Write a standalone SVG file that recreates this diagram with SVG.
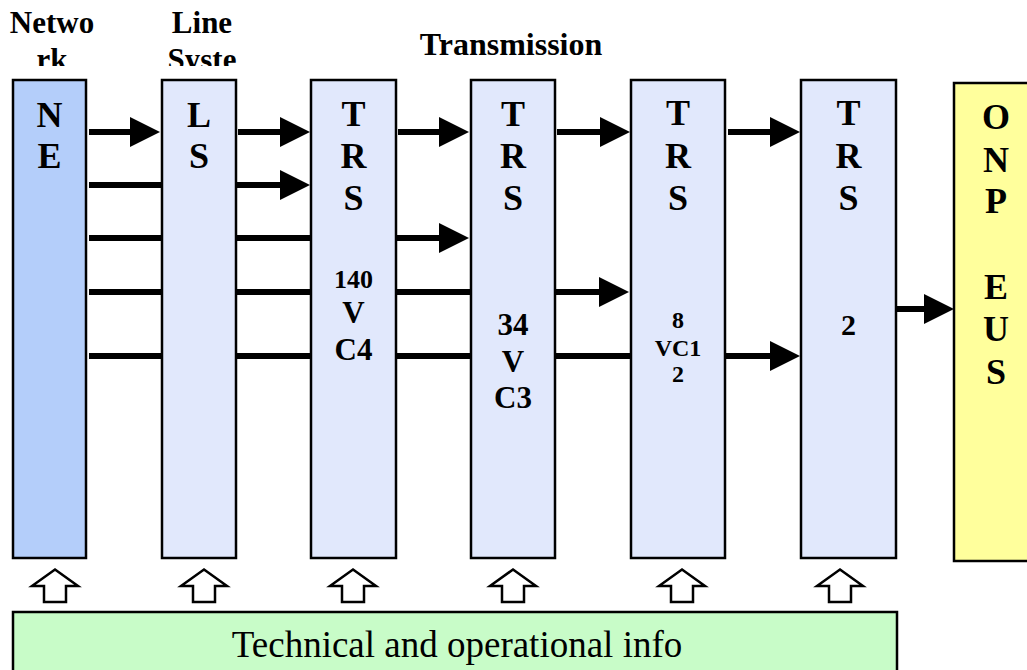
<svg xmlns="http://www.w3.org/2000/svg" width="1027" height="670" viewBox="0 0 1027 670">
<style>
.box{stroke:#000;stroke-width:2.5}
.trs{fill:#e1e8fc}
.ne{fill:#b4cefa}
.onp{fill:#ffff9c}
.info{fill:#c8fcc8}
.ln{stroke:#000;stroke-width:6;fill:none}
.up{fill:#fff;stroke:#000;stroke-width:2.5}
.b{font-family:'Liberation Serif','Times New Roman',serif;font-weight:bold;text-anchor:middle;fill:#000}
.r{font-family:'Liberation Serif','Times New Roman',serif;text-anchor:middle;fill:#000}
</style>
<defs>
<marker id="ah" markerUnits="userSpaceOnUse" markerWidth="30" markerHeight="30" viewBox="0 0 29 29" refX="0" refY="14.5" orient="auto">
<path d="M0,0 L29,14.5 L0,29 Z" fill="#000"/>
</marker>
<clipPath id="c1"><rect x="0" y="0" width="140" height="66"/></clipPath>
<clipPath id="c2"><rect x="140" y="0" width="130" height="66"/></clipPath>
<clipPath id="c3"><rect x="380" y="0" width="260" height="55"/></clipPath>
<path id="uparr" d="M0,-16.5 L23,0 L11,0 L11,16 L-11,16 L-11,0 L-23,0 Z"/>
</defs>
<rect width="1027" height="670" fill="#fff"/>

<g id="headers">
<g clip-path="url(#c1)"><text class="b" x="52" y="33" font-size="31">Netwo</text><text class="b" x="52" y="70" font-size="31">rk</text></g>
<g clip-path="url(#c2)"><text class="b" x="202" y="33" font-size="31">Line</text><text class="b" x="202" y="70" font-size="31">Syste</text></g>
<g clip-path="url(#c3)"><text class="b" x="511" y="55" font-size="32">Transmission</text></g>
</g>

<g id="connectors">
<line class="ln" x1="89" y1="132" x2="130" y2="132" marker-end="url(#ah)"/>
<line class="ln" x1="238" y1="132" x2="280" y2="132" marker-end="url(#ah)"/>
<line class="ln" x1="398" y1="132" x2="439" y2="132" marker-end="url(#ah)"/>
<line class="ln" x1="557" y1="132" x2="600" y2="132" marker-end="url(#ah)"/>
<line class="ln" x1="728" y1="132" x2="770" y2="132" marker-end="url(#ah)"/>
<line class="ln" x1="89" y1="185" x2="280" y2="185" marker-end="url(#ah)"/>
<line class="ln" x1="89" y1="238" x2="439" y2="238" marker-end="url(#ah)"/>
<line class="ln" x1="89" y1="292" x2="599" y2="292" marker-end="url(#ah)"/>
<line class="ln" x1="89" y1="356" x2="770" y2="356" marker-end="url(#ah)"/>
<line class="ln" x1="893" y1="309" x2="924" y2="309" marker-end="url(#ah)"/>
<use href="#uparr" class="up" x="55" y="586"/>
<use href="#uparr" class="up" x="204" y="586"/>
<use href="#uparr" class="up" x="353" y="586"/>
<use href="#uparr" class="up" x="513" y="586"/>
<use href="#uparr" class="up" x="682" y="586"/>
<use href="#uparr" class="up" x="840" y="586"/>
</g>

<g id="NE">
<rect class="box ne" x="13" y="80" width="73" height="478"/>
<text class="b" x="49.5" y="127" font-size="36">N</text>
<text class="b" x="49.5" y="168" font-size="36">E</text>
</g>
<g id="LS">
<rect class="box trs" x="162" y="80" width="74" height="478"/>
<text class="b" x="199" y="127" font-size="36">L</text>
<text class="b" x="199" y="168" font-size="36">S</text>
</g>
<g id="TRS1">
<rect class="box trs" x="311" y="80" width="85" height="478"/>
<text class="b" x="353.5" y="126" font-size="36">T</text>
<text class="b" x="353.5" y="168" font-size="36">R</text>
<text class="b" x="353.5" y="210" font-size="36">S</text>
<text class="b" x="353.5" y="288" font-size="26">140</text>
<text class="b" x="353.5" y="323" font-size="31">V</text>
<text class="b" x="353.5" y="360" font-size="31">C4</text>
</g>
<g id="TRS2">
<rect class="box trs" x="471" y="80" width="84" height="478"/>
<text class="b" x="513" y="126" font-size="36">T</text>
<text class="b" x="513" y="168" font-size="36">R</text>
<text class="b" x="513" y="210" font-size="36">S</text>
<text class="b" x="513" y="335" font-size="31">34</text>
<text class="b" x="513" y="372" font-size="31">V</text>
<text class="b" x="513" y="408" font-size="31">C3</text>
</g>
<g id="TRS3">
<rect class="box trs" x="631" y="80" width="94" height="478"/>
<text class="b" x="678" y="125" font-size="36">T</text>
<text class="b" x="678" y="168" font-size="36">R</text>
<text class="b" x="678" y="210" font-size="36">S</text>
<text class="b" x="678" y="328" font-size="24">8</text>
<text class="b" x="678" y="356" font-size="24">VC1</text>
<text class="b" x="678" y="382" font-size="24">2</text>
</g>
<g id="TRS4">
<rect class="box trs" x="801" y="80" width="95" height="478"/>
<text class="b" x="848.5" y="125" font-size="36">T</text>
<text class="b" x="848.5" y="168" font-size="36">R</text>
<text class="b" x="848.5" y="210" font-size="36">S</text>
<text class="b" x="848.5" y="335" font-size="30">2</text>
</g>
<g id="ONP">
<rect class="box onp" x="954" y="83" width="84" height="478"/>
<text class="b" x="996" y="129" font-size="36">O</text>
<text class="b" x="996" y="172" font-size="36">N</text>
<text class="b" x="996" y="213" font-size="36">P</text>
<text class="b" x="996" y="299" font-size="36">E</text>
<text class="b" x="996" y="341" font-size="36">U</text>
<text class="b" x="996" y="384" font-size="36">S</text>
</g>
<g id="INFO">
<rect class="box info" x="13" y="612" width="884" height="70"/>
<text class="r" x="457" y="657" font-size="37">Technical and operational info</text>
</g>
</svg>
